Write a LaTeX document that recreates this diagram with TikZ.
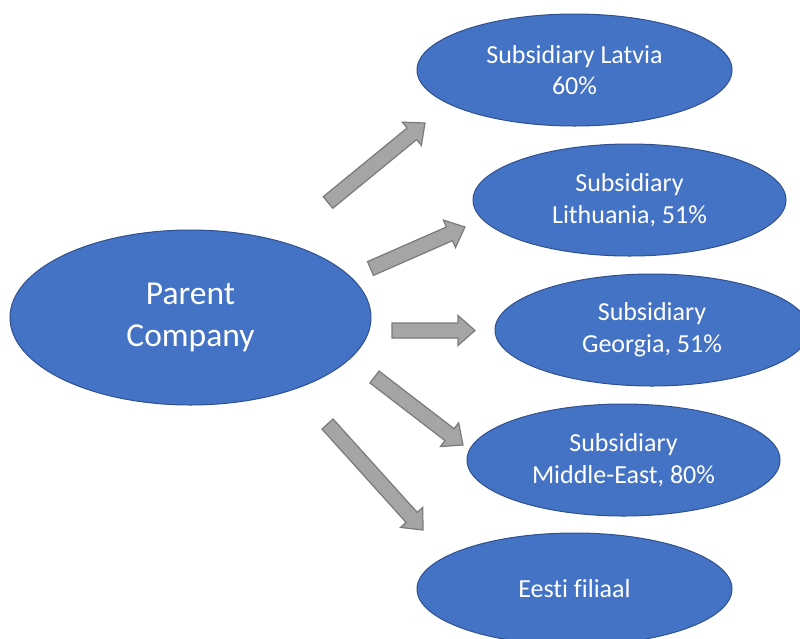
\documentclass[tikz,border=0pt]{standalone}
\usepackage{fontspec}
\setmainfont{Carlito}[Ligatures=NoCommon]
\usetikzlibrary{shapes.geometric,calc}
\definecolor{ofblue}{HTML}{4472C4}
\definecolor{ofborder}{HTML}{2F528F}
\definecolor{argray}{HTML}{A5A5A5}
\definecolor{arborder}{HTML}{7A7A7A}
\tikzset{
  oval/.style={ellipse, draw=ofborder, line width=1pt, fill=ofblue, text=white,
    inner sep=0pt, minimum width=313pt, minimum height=112pt, align=center,
    font=\fontsize{26}{31.7}\selectfont},
  bigoval/.style={oval, minimum width=361pt, minimum height=175pt,
    font=\fontsize{33.5}{42.5}\selectfont},
  blockarrow/.style={draw=arborder, fill=argray, line width=1.2pt, line join=miter}
}
\newcommand\blockarr[2]{%
  \coordinate (hb) at ($(#2)!17pt!(#1)$);
  \draw[blockarrow] ($(#1)!7.5pt!90:(#2)$) -- ($(hb)!7.5pt!-90:(#1)$) -- ($(hb)!15pt!-90:(#1)$)
    -- (#2) -- ($(hb)!15pt!90:(#1)$) -- ($(hb)!7.5pt!90:(#1)$) -- ($(#1)!7.5pt!-90:(#2)$) -- cycle;}
\begin{document}
\begin{tikzpicture}[x=1pt,y=-1pt]
\useasboundingbox (0,0) rectangle (800,638);
\clip (0,0) rectangle (800,638);
\fill[white] (0,0) rectangle (800,638);
\node[bigoval] (parent) at (190.5,317.5) {Parent\\Company};
\node[oval, minimum width=315pt] (latvia) at (574.5,70) {Subsidiary Latvia\\60\%};
\node[oval] (lith) at (629.5,200) {Subsidiary\\Lithuania, 51\%};
\node[oval, minimum width=314pt] (geo) at (652,330) {Subsidiary\\Georgia, 51\%};
\node[oval] (mideast) at (623.5,460) {Subsidiary\\Middle-East, 80\%};
\node[oval, minimum width=315pt] (eesti) at (574.5,589) {Eesti filiaal};
\coordinate (a1s) at (328,202.5); \coordinate (a1e) at (425,123);
\coordinate (a2s) at (370.5,268.5); \coordinate (a2e) at (465,227);
\coordinate (a3s) at (392,330.5); \coordinate (a3e) at (475,330.5);
\coordinate (a4s) at (374.5,377); \coordinate (a4e) at (463,445);
\coordinate (a5s) at (327.5,424); \coordinate (a5e) at (423,530);
\blockarr{a1s}{a1e}
\blockarr{a2s}{a2e}
\blockarr{a3s}{a3e}
\blockarr{a4s}{a4e}
\blockarr{a5s}{a5e}
\end{tikzpicture}
\end{document}
